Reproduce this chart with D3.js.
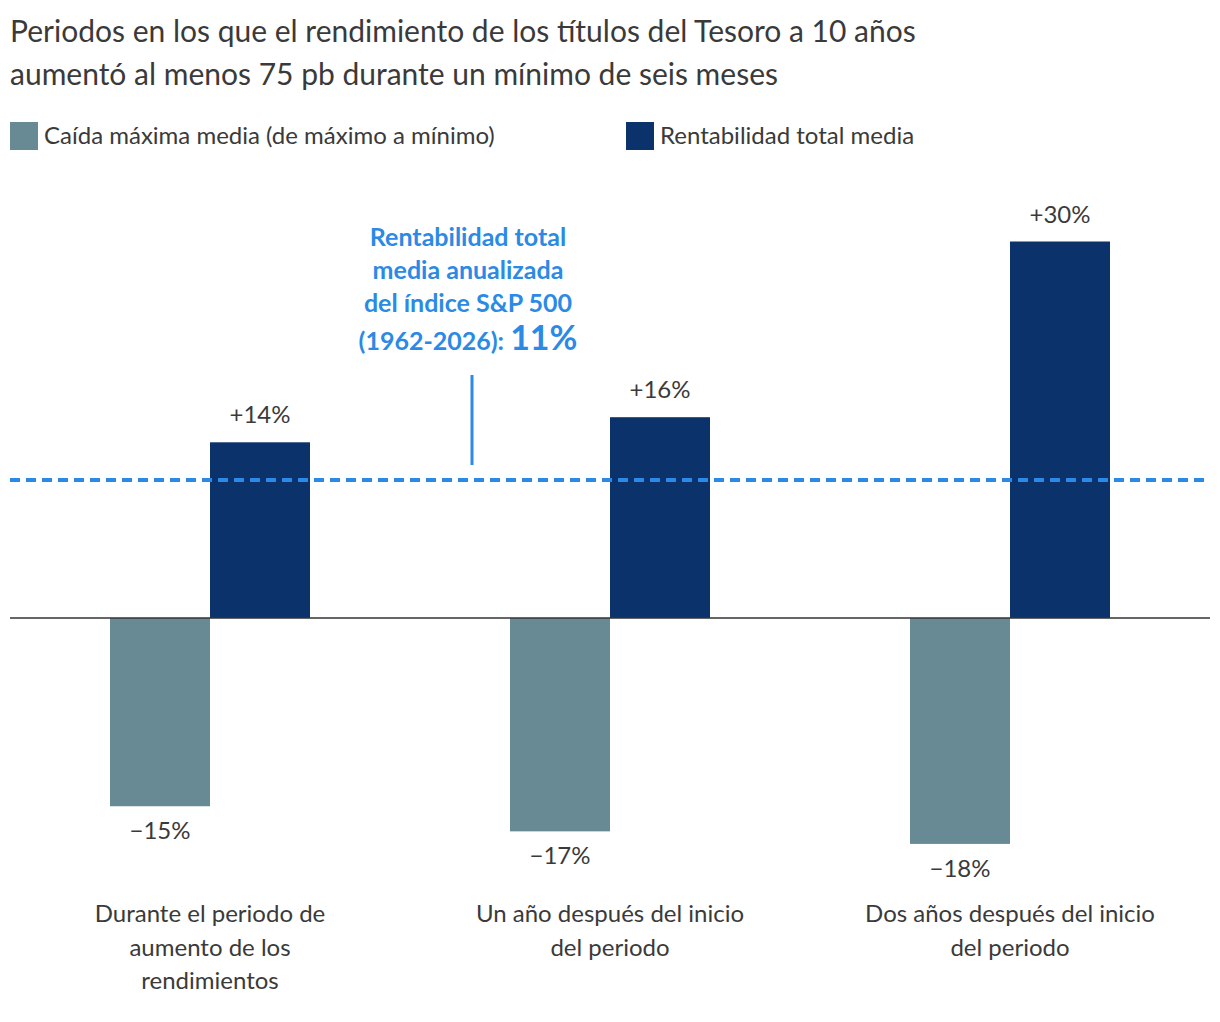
<!DOCTYPE html>
<html><head><meta charset="utf-8">
<script src="https://cdn.jsdelivr.net/npm/d3@7"></script>
<style>body{margin:0;background:#fff}text{font-family:Lato,"Open Sans",sans-serif}</style>
</head><body><svg id="c" width="1220" height="1022"></svg>
<script>
const categories = [["Durante el periodo de","aumento de los","rendimientos"],["Un año después del inicio","del periodo"],["Dos años después del inicio","del periodo"]];
const seriesNames = ["Caída máxima media (de máximo a mínimo)","Rentabilidad total media"];
const drawdown = [-15,-17,-18];
const totalReturn = [14,16,30];
const drawdownLabels = ["−15%","−17%","−18%"];
const returnLabels = ["+14%","+16%","+30%"];
const spAvg = 11;
const colors = ["#688a94","#0c326b"];
const blue = "#2b8ae6";

const svg = d3.select("#c");
const x0 = d3.scaleBand().domain(d3.range(3)).range([10,1210]);
const x1 = d3.scaleBand().domain([0,1]).range([100,300]);
const y = d3.scaleLinear().domain([-18,30]).range([843.9,241.5]);

svg.append("text").attr("x",10).attr("y",42).attr("font-size",30).attr("fill","#3a3a3a").text("Periodos en los que el rendimiento de los títulos del Tesoro a 10 años");
svg.append("text").attr("x",10).attr("y",85).attr("font-size",30).attr("fill","#3a3a3a").text("aumentó al menos 75 pb durante un mínimo de seis meses");

const legX=[10,626];
seriesNames.forEach((n,i)=>{
  svg.append("rect").attr("x",legX[i]).attr("y",122).attr("width",28).attr("height",28).attr("fill",colors[i]);
  svg.append("text").attr("x",legX[i]+34).attr("y",144).attr("font-size",24).attr("fill","#3a3a3a").text(n);
});

const data=[drawdown,totalReturn];
data.forEach((arr,s)=>{
  arr.forEach((v,i)=>{
    const bx=x0(i)+x1(s);
    svg.append("rect").attr("x",bx).attr("width",x1.bandwidth())
      .attr("y",Math.min(y(v),y(0))).attr("height",Math.abs(y(v)-y(0))).attr("fill",colors[s]);
    const lab = s===0?drawdownLabels[i]:returnLabels[i];
    svg.append("text").attr("x",bx+x1.bandwidth()/2).attr("y",v<0?y(v)+33:y(v)-19)
      .attr("text-anchor","middle").attr("font-size",24).attr("fill","#3a3a3a").text(lab);
  });
});
svg.append("line").attr("x1",10).attr("x2",1210).attr("y1",y(0)).attr("y2",y(0)).attr("stroke","#333").attr("stroke-width",1.5);
svg.append("line").attr("x1",10).attr("x2",1210).attr("y1",y(spAvg)).attr("y2",y(spAvg)).attr("stroke",blue).attr("stroke-width",4).attr("stroke-dasharray","10,6");
svg.append("line").attr("x1",472).attr("x2",472).attr("y1",375).attr("y2",465).attr("stroke",blue).attr("stroke-width",3);
const ann=["Rentabilidad total","media anualizada","del índice S&P 500"];
ann.forEach((t,i)=>svg.append("text").attr("x",468).attr("y",246+i*33).attr("text-anchor","middle").attr("font-size",25).attr("font-weight","bold").attr("fill",blue).text(t));
const t4=svg.append("text").attr("x",468).attr("y",350).attr("text-anchor","middle").attr("font-weight","bold").attr("fill",blue);
t4.append("tspan").attr("font-size",25).text("(1962-2026): ");
t4.append("tspan").attr("font-size",34).text(spAvg+"%");

categories.forEach((lines,i)=>{
  lines.forEach((l,j)=>svg.append("text").attr("x",x0(i)+200).attr("y",922+j*33.5).attr("text-anchor","middle").attr("font-size",24).attr("fill","#3a3a3a").text(l));
});
</script></body></html>
